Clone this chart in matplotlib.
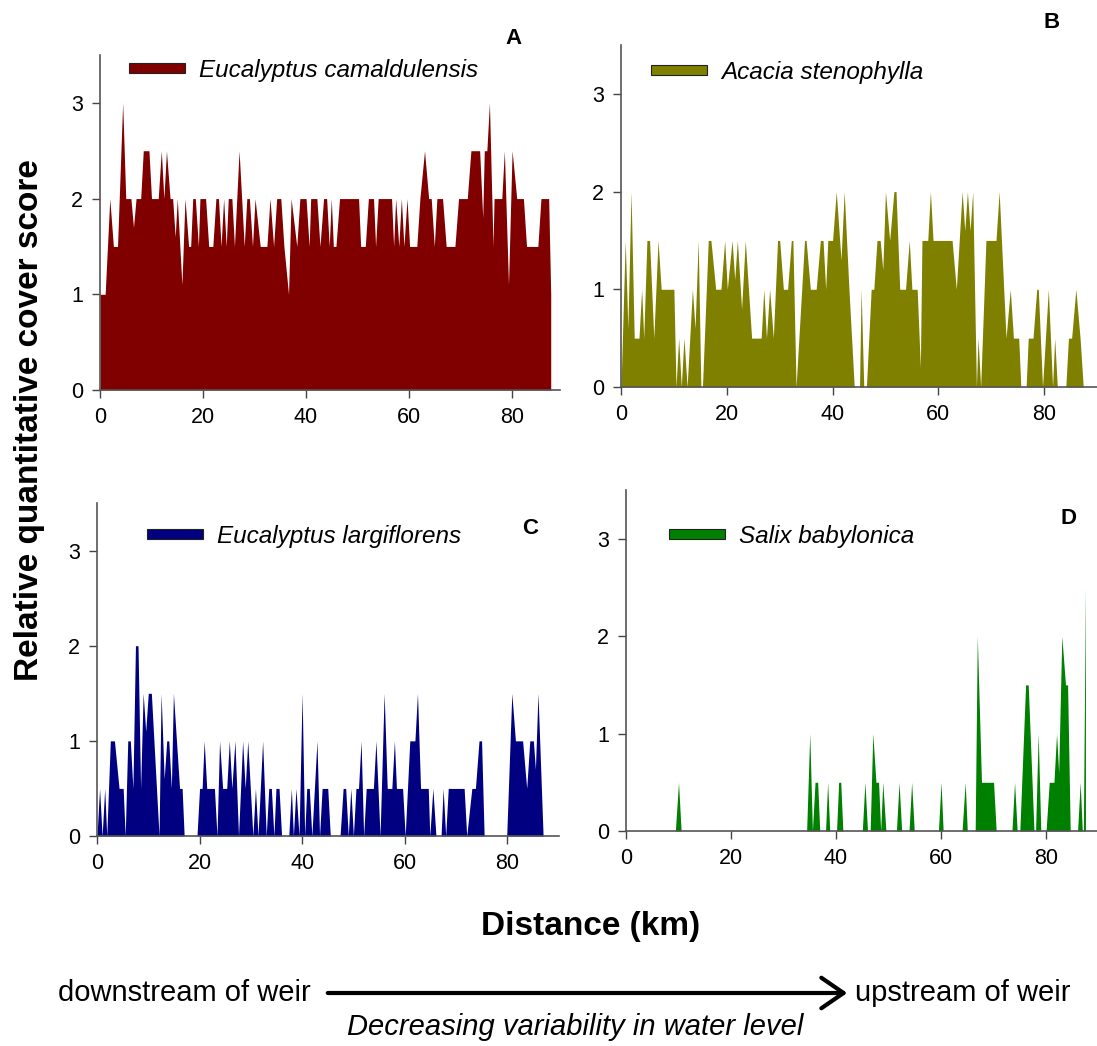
import matplotlib
matplotlib.use("Agg")
import matplotlib.pyplot as plt
from matplotlib.patches import Patch

plt.rcParams['font.family'] = ['Liberation Sans', 'DejaVu Sans']

# (distance km, cover score)
cam = [(0, 1), (1, 1), (1.9, 2), (2.6, 1.5), (3.4, 1.5), (4.4, 3), (5, 2), (6, 2), (6.5, 1.7), (7, 2),
       (7.9, 2), (8.4, 2.5), (9.5, 2.5), (10, 2), (11.3, 2), (11.9, 2.5), (12.4, 2), (12.9, 2.5), (13.6, 2),
       (14.1, 2), (14.6, 1.6), (15, 2), (15.9, 1.1), (16.5, 2), (17.2, 1.5), (17.6, 1.5), (18, 2), (18.5, 2),
       (19.1, 1.5), (19.4, 2), (20.5, 2), (21.1, 1.5), (21.9, 1.5), (22.5, 2), (23, 2), (23.5, 1.5), (24, 2),
       (24.5, 1.5), (24.9, 2), (25.6, 2), (26.1, 1.5), (27, 2.5), (28, 1.5), (28.5, 2), (29, 2), (29.6, 1.5),
       (30.1, 2), (31.1, 1.5), (32.4, 1.5), (33, 2), (33.7, 1.5), (34.3, 2), (35.1, 2), (35.7, 1.5), (36.6, 1.0),
       (37.1, 2), (38.2, 1.5), (38.8, 2), (40, 2), (40.6, 1.5), (40.9, 2), (42.1, 2), (42.7, 1.5), (43.4, 2),
       (44, 2), (44.5, 1.5), (44.9, 2), (45.3, 1.5), (45.8, 1.5), (46.5, 2), (50.2, 2), (50.6, 1.5), (51.5, 1.5),
       (52.1, 2), (53.1, 2), (53.5, 1.5), (54, 2), (56.6, 2), (57, 1.5), (57.4, 2), (58, 1.5), (58.5, 2),
       (59, 1.5), (59.6, 2), (60.1, 1.5), (61.5, 1.5), (62.1, 2), (63, 2.5), (63.8, 2), (64.3, 2), (64.9, 1.5),
       (65.4, 2), (66.5, 2), (67.2, 1.5), (68.9, 1.5), (69.6, 2), (71.3, 2), (72, 2.5), (73.7, 2.5), (74.3, 1.8),
       (74.6, 2.5), (75.1, 2.5), (75.6, 3), (76.3, 1.5), (76.5, 2), (78, 2), (78.5, 2.5), (79.3, 1.1), (80, 2.5),
       (80.9, 2), (82.2, 2), (82.8, 1.5), (85, 1.5), (85.6, 2), (87.1, 2), (87.5, 1)]

sten = [(0, 0), (0.8, 1.5), (1.3, 0.6), (1.9, 2), (2.5, 0.5), (3.4, 0.5), (3.9, 1), (4.3, 0.5), (4.9, 1.5),
        (5.4, 1.5), (6.2, 0.5), (7, 1.5), (7.6, 1), (10, 1), (10.4, 0), (10.9, 0.5), (11.4, 0), (11.9, 0.5),
        (12.5, 0), (13.5, 1), (14, 0.6), (14.6, 1.5), (15.1, 0), (15.4, 0), (16.5, 1.5), (17, 1.5), (17.9, 1),
        (18.9, 1), (19.6, 1.5), (20.1, 1), (21, 1.5), (21.5, 1.1), (22, 1.5), (22.8, 0.8), (23.5, 1.5),
        (24.7, 0.5), (26.5, 0.5), (27, 1), (27.5, 0.5), (28.1, 1), (28.8, 0.5), (29.6, 1.5), (30, 1.5),
        (30.7, 1), (31.5, 1), (32.2, 1.5), (32.5, 1.5), (33.1, 0), (34.7, 1.5), (35, 1.5), (35.8, 1), (36.9, 1),
        (37.7, 1.5), (38.2, 1.5), (38.7, 1), (39.1, 1.5), (40, 1.5), (40.7, 2), (41.6, 1.3), (42.2, 2), (43.1, 1),
        (44.1, 0), (45.1, 0), (45.4, 1), (45.9, 0), (46.4, 0), (47.3, 1), (47.8, 1), (48.4, 1.5), (49, 1.5),
        (49.5, 1.2), (50, 2), (50.8, 1.5), (51.6, 2), (52, 2), (52.7, 1), (53.8, 1), (54.5, 1.5), (55, 1),
        (56, 1), (56.6, 0.2), (56.9, 1.5), (58, 1.5), (58.5, 2), (59, 1.5), (62.6, 1.5), (63.4, 1), (64.5, 2),
        (65, 1.6), (65.5, 2), (66, 1.6), (66.5, 2), (67.2, 0), (67.5, 0.5), (68, 0), (69, 1.5), (70.9, 1.5),
        (71.5, 2), (72.8, 0.5), (73.6, 1), (74.2, 0.5), (75.2, 0.5), (75.6, 0), (76.6, 0), (77, 0.5), (77.9, 0.5),
        (78.6, 1), (78.9, 1), (79.7, 0), (80.8, 1), (81.6, 0), (82, 0.5), (82.5, 0), (84.1, 0), (84.6, 0.5),
        (85.2, 0.5), (86, 1), (86.8, 0.5), (87.4, 0)]

larg = [(0, 0), (0.5, 0.5), (1, 0), (1.5, 0.5), (1.9, 0), (2.6, 1), (3.4, 1), (4.3, 0.5), (5.1, 0.5), (5.5, 0),
        (6, 1), (6.5, 1), (7, 0.5), (7.5, 2), (8, 2), (8.5, 0.5), (9, 1.5), (9.5, 1.1), (10, 1.5), (10.6, 1.5),
        (12.1, 0), (12.5, 1.5), (13.1, 0.6), (13.6, 1), (14, 1), (14.5, 0.5), (14.9, 1.5), (16.1, 0.5),
        (16.6, 0.5), (17, 0), (19.5, 0), (20, 0.5), (20.5, 0.5), (20.9, 1), (21.4, 0.5), (22.9, 0.5), (23.4, 0),
        (23.9, 1), (24.5, 0.5), (25.3, 0.5), (25.8, 1), (26.3, 0.5), (26.9, 1), (27.6, 0), (28.4, 1),
        (28.9, 0.5), (29.4, 1), (30.4, 0), (30.9, 0.5), (31.4, 0), (32.3, 1), (33, 0), (33.5, 0.5), (34, 0.5),
        (34.5, 0), (34.9, 0.5), (35.5, 0.5), (36, 0), (37.4, 0), (37.9, 0.5), (38.3, 0), (38.8, 0.5), (39.4, 0),
        (40, 1.5), (40.5, 0), (40.9, 0.5), (41.4, 0.5), (41.9, 0), (42.9, 1), (43.4, 0), (43.9, 0.5), (45, 0.5),
        (45.5, 0), (47.4, 0), (48, 0.5), (48.5, 0.5), (49, 0), (49.5, 0.5), (50, 0), (50.5, 0.5), (51, 0.5),
        (51.5, 1), (52, 0), (52.5, 0.5), (53.9, 0.5), (54.4, 1), (55.2, 0), (56, 1.5), (56.6, 0.5), (57.5, 0.5),
        (58, 1), (58.4, 0.5), (59.6, 0.5), (60.1, 0), (61, 1), (62, 1), (62.5, 1.5), (63.1, 0.5), (64.6, 0.5),
        (64.9, 0), (65.5, 0.5), (66.1, 0), (67.1, 0), (67.5, 0.5), (68, 0), (68.5, 0.5), (71.6, 0.5), (72.1, 0),
        (73.1, 0.5), (73.8, 0.5), (74.5, 1), (75, 1), (75.5, 0), (79.9, 0), (80.9, 1.5), (81.6, 1), (83, 1),
        (83.8, 0.5), (84.4, 1), (85.1, 1), (85.5, 0.7), (86, 1.5), (87, 0)]

salix = [(0, 0), (9.4, 0), (10, 0.5), (10.5, 0), (34.4, 0), (35, 1), (35.5, 0), (36, 0.5), (36.5, 0.5),
         (36.9, 0), (38, 0), (38.4, 0.5), (38.8, 0), (40.1, 0), (40.5, 0.5), (40.9, 0.5), (41.3, 0), (45, 0),
         (45.5, 0.5), (46, 0), (46.5, 0), (47, 1), (47.6, 0.5), (48.1, 0.5), (48.5, 0), (48.9, 0.5), (49.5, 0),
         (51.5, 0), (52, 0.5), (52.5, 0), (53.9, 0), (54.4, 0.5), (54.9, 0), (59.5, 0), (60, 0.5), (60.4, 0),
         (64, 0), (64.6, 0.5), (65, 0), (66.5, 0), (66.9, 2), (67.7, 0.5), (70, 0.5), (70.5, 0), (73.5, 0),
         (74, 0.5), (74.5, 0), (75, 0), (76.1, 1.5), (76.6, 1.5), (77.7, 0), (78, 0), (78.5, 1), (79, 0),
         (80, 0), (80.6, 0.5), (81.5, 0.5), (82, 1), (82.4, 0.6), (83, 2), (83.7, 1.5), (84.1, 1.5), (84.6, 0),
         (86, 0), (86.5, 0.5), (86.9, 0), (87.1, 0), (87.5, 2.5)]

species = ['Eucalyptus camaldulensis', 'Acacia stenophylla', 'Eucalyptus largiflorens', 'Salix babylonica']
series = [cam, sten, larg, salix]
colours = ['#800000', '#808000', '#000080', '#008000']
letters = ['A', 'B', 'C', 'D']

W, H = 1097, 1046
fig = plt.figure(figsize=(W / 100, H / 100), dpi=100)

# axes boxes in pixels: left, bottom(y from top), right edge, top(y from top)
boxes = [(100, 390, 560, 55), (621, 387, 1097, 45), (97, 836, 559, 503), (626, 831, 1097, 490)]
xmax = [89.3, 90, 90.1, 89.7]
leg_at = [(129, 70), (651, 72), (147, 536), (669, 536)]
letter_at = [(513, 38), (1052, 22), (530, 529), (1069, 519)]

for i in range(4):
    l, b, r, t = boxes[i]
    ax = fig.add_axes([l / W, 1 - b / H, (r - l) / W, (b - t) / H])
    km = [p[0] for p in series[i]]
    score = [p[1] for p in series[i]]
    ax.fill_between(km, 0, score, color=colours[i], lw=0, zorder=1)
    ax.set_xlim(0, xmax[i])
    ax.set_ylim(0, 3.5)
    ax.set_xticks([0, 20, 40, 60, 80])
    ax.set_yticks([0, 1, 2, 3])
    ax.tick_params(labelsize=15.5, length=6, width=1, color='#444444', pad=6)
    for s in ['top', 'right']:
        ax.spines[s].set_visible(False)
    for s in ['left', 'bottom']:
        ax.spines[s].set_color('#555555')
        ax.spines[s].set_linewidth(1.2)
    lx, ly = leg_at[i]
    ax.legend([Patch(facecolor=colours[i], edgecolor='#222222', lw=0.8)], [species[i]],
              loc='center left', bbox_to_anchor=((lx - l) / (r - l), (b - ly) / (b - t)),
              frameon=False, borderpad=0, borderaxespad=0, handlelength=2.3, handleheight=0.28,
              handletextpad=0.58, prop={'style': 'italic', 'size': 17.5})
    px, py = letter_at[i]
    fig.text(px / W, 1 - py / H, letters[i], fontsize=16, fontweight='bold', ha='center', va='center')

fig.text(30 / W, 1 - 420 / H, 'Relative quantitative cover score', rotation=90, fontsize=24,
         fontweight='bold', ha='center', va='center')
fig.text(591 / W, 1 - 927 / H, 'Distance (km)', fontsize=24, fontweight='bold', ha='center', va='center')

fig.text(311 / W, 1 - 993 / H, 'downstream of weir', fontsize=21, ha='right', va='center')
fig.text(855 / W, 1 - 993 / H, 'upstream of weir', fontsize=21, ha='left', va='center')
fig.text(575 / W, 1 - 1027 / H, 'Decreasing variability in water level', fontsize=21, style='italic',
         ha='center', va='center')
fig.patches.append(matplotlib.patches.FancyArrowPatch(
    (325 / W, 1 - 993 / H), (850 / W, 1 - 993 / H), transform=fig.transFigure,
    arrowstyle='->,head_length=16,head_width=11', mutation_scale=1, lw=3, color='black'))

fig.savefig('out.png', dpi=100)
